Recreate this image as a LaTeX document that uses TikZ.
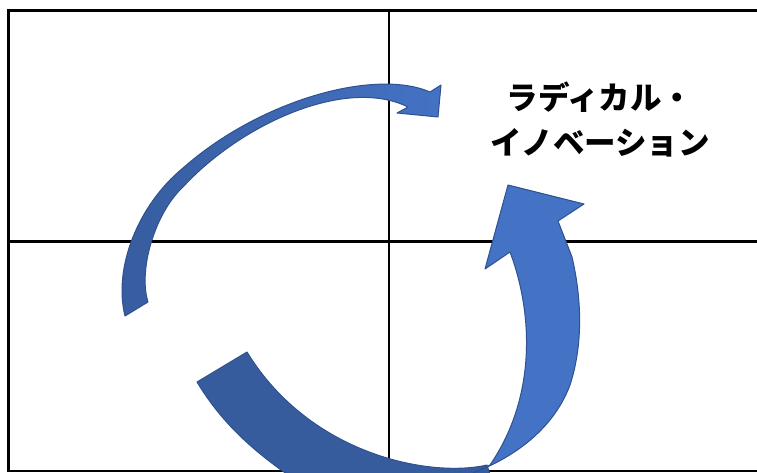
\documentclass[tikz,border=0pt]{standalone}
\usepackage{fontspec}
\newfontfamily\jpfont{Noto Sans CJK JP}
\definecolor{arrowlight}{HTML}{4472C4}
\definecolor{arrowdark}{HTML}{375C9E}
\definecolor{arrowedge}{HTML}{2F528F}
\begin{document}
\begin{tikzpicture}[x=1pt,y=-1pt,
  frameline/.style={line width=2.9pt, black},
  ribbon/.style={draw=arrowedge, line width=1pt, line join=round}]
\useasboundingbox (0,0) rectangle (757,473);
\clip (0,0) rectangle (757,473);
\fill[white] (0,0) rectangle (757,473);
% frame and axes
\draw[frameline] (757,10.7) -- (8.7,10.7) -- (8.7,471) -- (757,471);
\draw[frameline] (389,10.7) -- (389,471);
\draw[frameline] (8.7,241.7) -- (757,241.7);
% upper curved arrow
\path[ribbon, left color=arrowdark, right color=arrowlight]
  (125,316) .. controls (113,268) and (138,205) .. (183,168)
  .. controls (260,100) and (375,68) .. (430,92)
  -- (441,85) -- (438,117) -- (397,113) -- (408,107)
  .. controls (345,76) and (240,125) .. (183,187)
  .. controls (155,213) and (138,270) .. (148,302)
  -- cycle;
% lower curved arrow, back part
\path[ribbon, fill=arrowdark]
  (197,382) .. controls (220,420) and (250,450) .. (300,483)
  -- (495,490) -- (487,465)
  .. controls (430,478) and (310,455) .. (247,352)
  -- cycle;
% lower curved arrow, front part with head
\path[ribbon, fill=arrowlight]
  (473,473) .. controls (520,455) and (555,425) .. (570,385)
  .. controls (583,345) and (582,300) .. (572,257)
  -- (558,221) -- (584,204) -- (508,185) -- (485,269) -- (510,252)
  .. controls (532,310) and (538,395) .. (490,465)
  -- cycle;
% label
\node[font=\jpfont\bfseries\fontsize{31.5}{45}\selectfont, align=center, inner sep=0pt] (label) at (600,119.5) {ラディカル・\\イノベーション};
\end{tikzpicture}
\end{document}
